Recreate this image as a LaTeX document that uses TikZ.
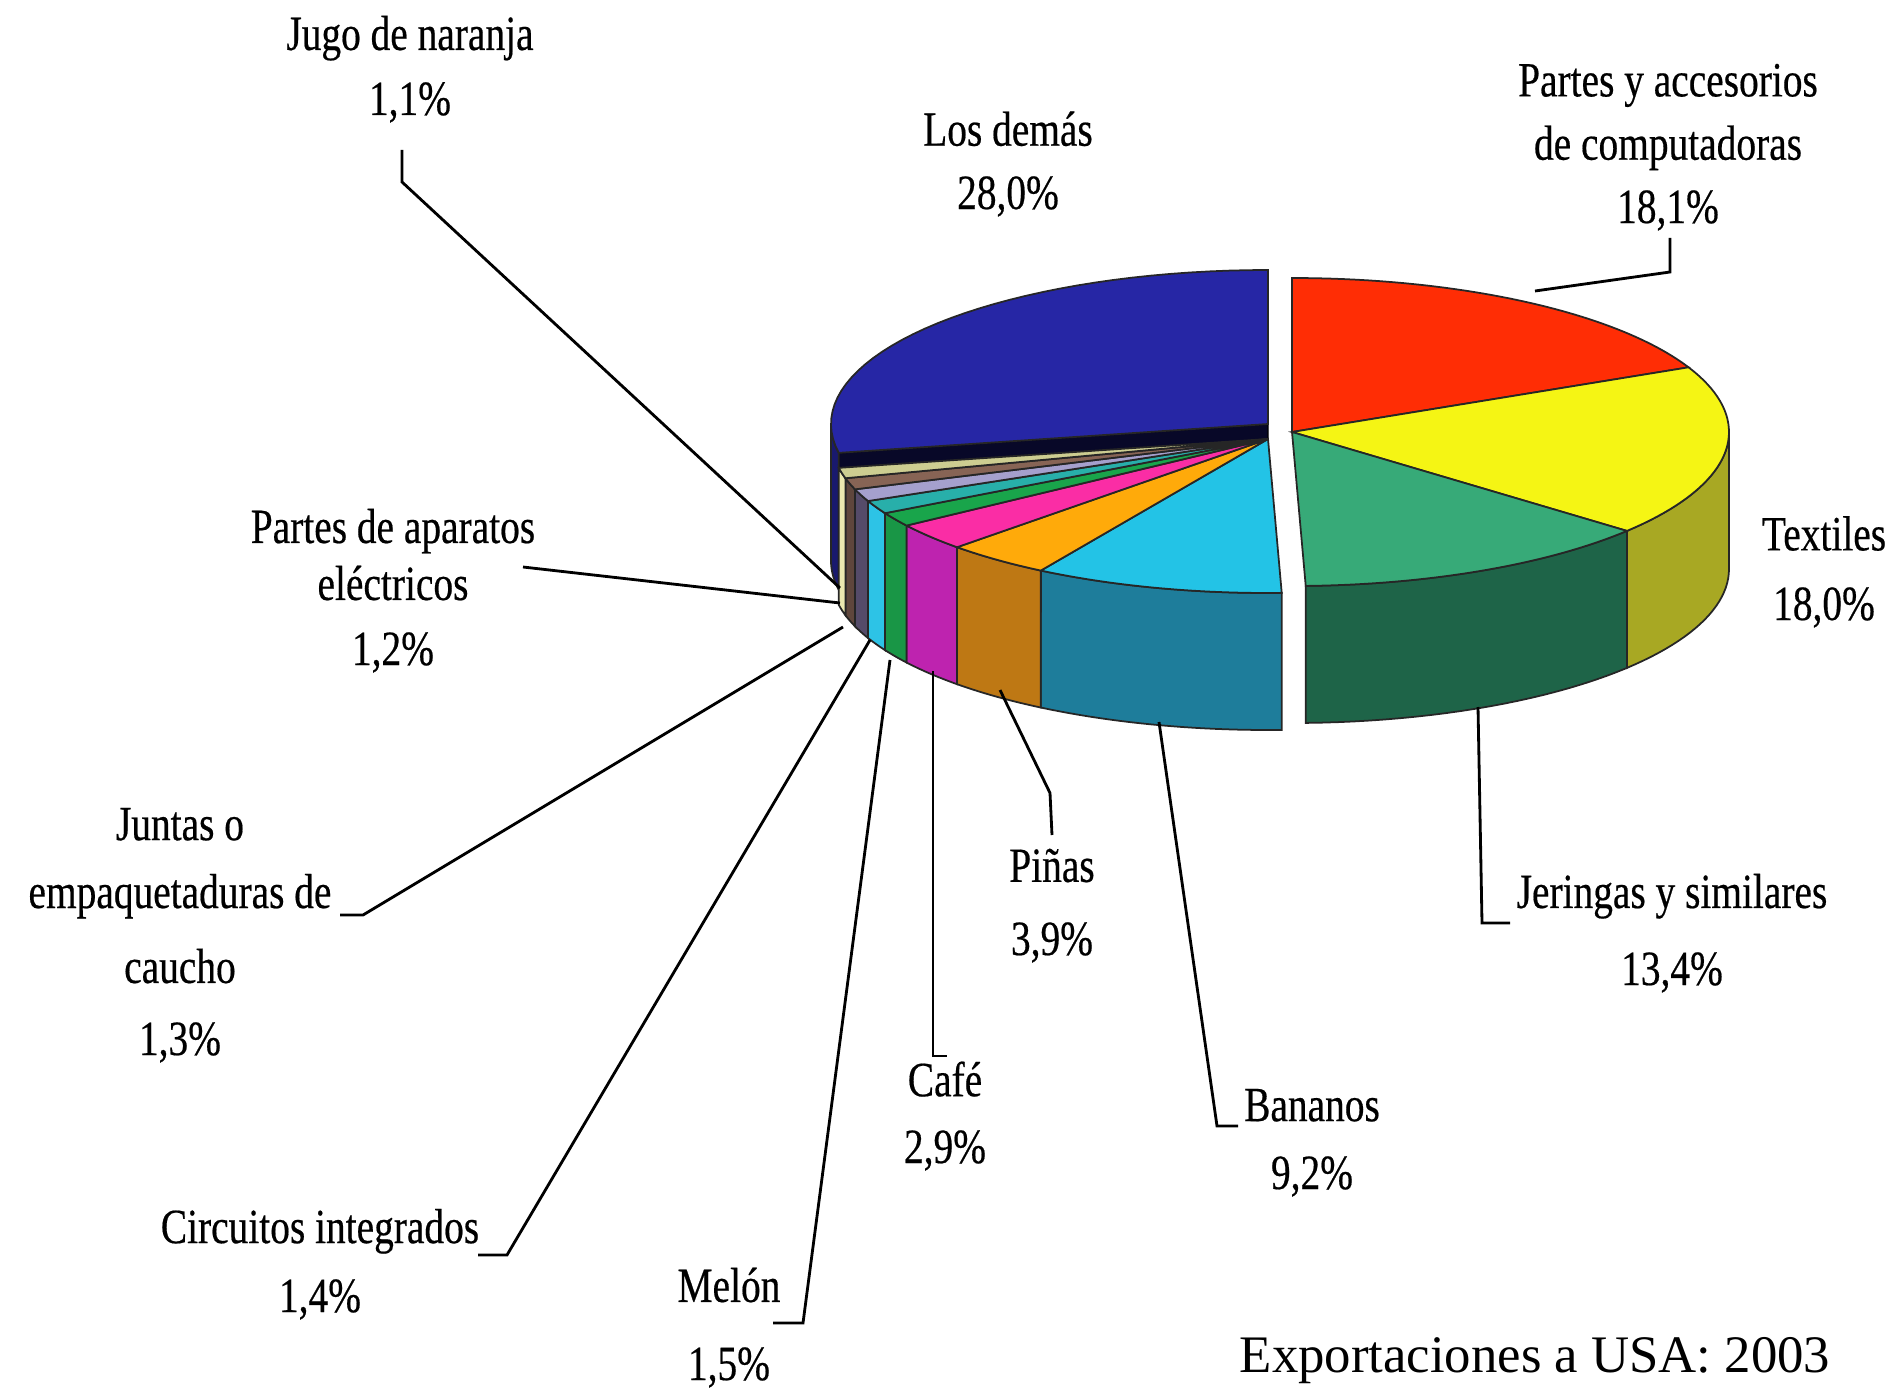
\documentclass[tikz,border=0pt]{standalone}
\usepackage{fontspec}
\setmainfont{Liberation Serif}
\newfontfamily\lblfont{Liberation Serif}[FakeStretch=0.8,FakeBold=0.4]
\usetikzlibrary{positioning}

\definecolor{redT}{RGB}{255,45,5}
\definecolor{yelT}{RGB}{245,245,20}
\definecolor{yelS}{RGB}{168,168,35}
\definecolor{jerT}{RGB}{55,170,120}
\definecolor{jerS}{RGB}{30,100,72}
\definecolor{banT}{RGB}{35,195,230}
\definecolor{banS}{RGB}{30,125,155}
\definecolor{pinT}{RGB}{255,170,10}
\definecolor{pinS}{RGB}{190,120,20}
\definecolor{cafT}{RGB}{250,45,165}
\definecolor{cafS}{RGB}{190,35,175}
\definecolor{melT}{RGB}{25,165,75}
\definecolor{melS}{RGB}{25,150,70}
\definecolor{cirT}{RGB}{40,175,170}
\definecolor{cirS}{RGB}{45,195,230}
\definecolor{junT}{RGB}{165,160,205}
\definecolor{junS}{RGB}{85,75,105}
\definecolor{parT}{RGB}{135,100,85}
\definecolor{parS}{RGB}{95,70,60}
\definecolor{jugT}{RGB}{205,205,145}
\definecolor{jugS}{RGB}{235,232,175}
\definecolor{demT}{RGB}{38,38,165}
\definecolor{demS}{RGB}{25,25,110}
\definecolor{demC}{RGB}{8,8,40}

\newcommand{\pierx}{437}  % radios del pastel
\newcommand{\piery}{154}
\newcommand{\pieth}{137}  % grosor
% cara lateral: centro x, centro y, desde, hasta, color
\newcommand{\pieside}[5]{\filldraw[fill=#5, draw=black!85, line width=.5pt]
  plot[domain=#3:#4, samples=24] ({#1+\pierx*cos(\x)}, {#2-\piery*sin(\x)})
  -- plot[domain=#4:#3, samples=24] ({#1+\pierx*cos(\x)}, {#2-\piery*sin(\x)+\pieth}) -- cycle;}
% cara superior
\newcommand{\pietop}[5]{\filldraw[fill=#5, draw=black!85, line width=.5pt] (#1,#2)
  -- plot[domain=#3:#4, samples=40] ({#1+\pierx*cos(\x)}, {#2-\piery*sin(\x)}) -- cycle;}

\begin{document}
\begin{tikzpicture}[x=0.01cm, y=-0.01cm]
\tikzset{lbl/.style = {font=\lblfont\fontsize{14}{18}\selectfont, align=center, inner sep=0pt, anchor=base},
  leader/.style = {draw=black, line width=0.8pt}}
\useasboundingbox (0,0) rectangle (1903,1388);

% Los demas
\filldraw[fill=demC, draw=black] (1268,424) -- ({1268+\pierx*cos(-169.2)},{424-\piery*sin(-169.2)}) -- ++(0,\pieth) -- (1268,{424+\pieth}) -- cycle;
\pieside{1268}{424}{-169.2}{-180}{demS}
\pietop{1268}{424}{-169.2}{-270}{demT}

% rebanadas del frente
\foreach \angA/\angB/\colT/\colS in {-88.2/-121.32/banT/banS, -121.32/-135.36/pinT/pinS, -135.36/-145.8/cafT/cafS,
  -145.8/-151.2/melT/melS, -151.2/-156.24/cirT/cirS, -156.24/-160.92/junT/junS,
  -160.92/-165.24/parT/parS, -165.24/-169.2/jugT/jugS}
  {\pieside{1268}{439}{\angA}{\angB}{\colS}}
\foreach \angA/\angB/\colT/\colS in {-88.2/-121.32/banT/banS, -121.32/-135.36/pinT/pinS, -135.36/-145.8/cafT/cafS,
  -145.8/-151.2/melT/melS, -151.2/-156.24/cirT/cirS, -156.24/-160.92/junT/junS,
  -160.92/-165.24/parT/parS, -165.24/-169.2/jugT/jugS}
  {\pietop{1268}{439}{\angA}{\angB}{\colT}}

% rebanadas separadas
\pieside{1292}{432}{0}{-39.96}{yelS}
\pieside{1292}{432}{-39.96}{-88.2}{jerS}
\pietop{1292}{432}{90}{24.84}{redT}
\pietop{1292}{432}{24.84}{-39.96}{yelT}
\pietop{1292}{432}{-39.96}{-88.2}{jerT}

% etiquetas (base = ultima linea)
\node[lbl] (lJugo) at (410,115) {Jugo de naranja\\[0.5pt]1,1\%};
\node[lbl] (lDemas) at (1008,209) {Los demás\\28,0\%};
\node[lbl] (lPartesComp) at (1668,223) {Partes y accesorios\\de computadoras\\18,1\%};
\node[lbl] (lTextiles) at (1824,620) {Textiles\\[1.8pt]18,0\%};
\node[lbl] (lJeringas) at (1672,985) {Jeringas y similares\\[3.9pt]13,4\%};
\node[lbl] (lBananos) at (1312,1189) {Bananos\\[1.3pt]9,2\%};
\node[lbl] (lPinas) at (1052,955) {Piñas\\[2.8pt]3,9\%};
\node[lbl] (lCafe) at (945,1163) {Café\\[1pt]2,9\%};
\node[lbl] (lMelon) at (729,1380) {Melón\\[4.2pt]1,5\%};
\node[lbl] (lCircuitos) at (320,1312) {Circuitos integrados\\[1.6pt]1,4\%};
\node[lbl] (lJuntas) at (180,1055) {Juntas o\\[1.3pt]empaquetaduras de\\[3.3pt]caucho\\[2.5pt]1,3\%};
\node[lbl] (lPartesElec) at (393,665) {Partes de aparatos\\[-1.8pt]eléctricos\\[0.5pt]1,2\%};
\node[anchor=base, font=\fontsize{15}{18}\selectfont] (title) at (1535,1372) {Exportaciones a USA: 2003};

% puntos de las lineas
\coordinate (pJugo) at (840,588);       \coordinate (kJugo) at (402,182);       \coordinate (eJugo) at (402,150);
\coordinate (pPartesElec) at (840,603); \coordinate (ePartesElec) at (523,567);
\coordinate (pJuntas) at (843,627);     \coordinate (kJuntas) at (363,915);     \coordinate (eJuntas) at (340,915);
\coordinate (pCircuitos) at (870,640);  \coordinate (kCircuitos) at (507,1255); \coordinate (eCircuitos) at (478,1255);
\coordinate (pMelon) at (890,660);      \coordinate (kMelon) at (803,1323);     \coordinate (eMelon) at (773,1323);
\coordinate (pCafe) at (933,671);       \coordinate (kCafe) at (933,1056);      \coordinate (eCafe) at (947,1056);
\coordinate (pPinas) at (1000,690);     \coordinate (kPinas) at (1050,793);     \coordinate (ePinas) at (1052,835);
\coordinate (pBananos) at (1159,722);   \coordinate (kBananos) at (1217,1126);  \coordinate (eBananos) at (1238,1126);
\coordinate (pJeringas) at (1478,707);  \coordinate (kJeringas) at (1482,923);  \coordinate (eJeringas) at (1510,923);
\coordinate (pPartesComp) at (1535,291); \coordinate (kPartesComp) at (1670,272); \coordinate (ePartesComp) at (1670,238);

\draw[leader] (pJugo) -- (kJugo) -- (eJugo);
\draw[leader] (pPartesElec) -- (ePartesElec);
\draw[leader] (pJuntas) -- (kJuntas) -- (eJuntas);
\draw[leader] (pCircuitos) -- (kCircuitos) -- (eCircuitos);
\draw[leader] (pMelon) -- (kMelon) -- (eMelon);
\draw[leader] (pCafe) -- (kCafe) -- (eCafe);
\draw[leader] (pPinas) -- (kPinas) -- (ePinas);
\draw[leader] (pBananos) -- (kBananos) -- (eBananos);
\draw[leader] (pJeringas) -- (kJeringas) -- (eJeringas);
\draw[leader] (pPartesComp) -- (kPartesComp) -- (ePartesComp);
\end{tikzpicture}
\end{document}
